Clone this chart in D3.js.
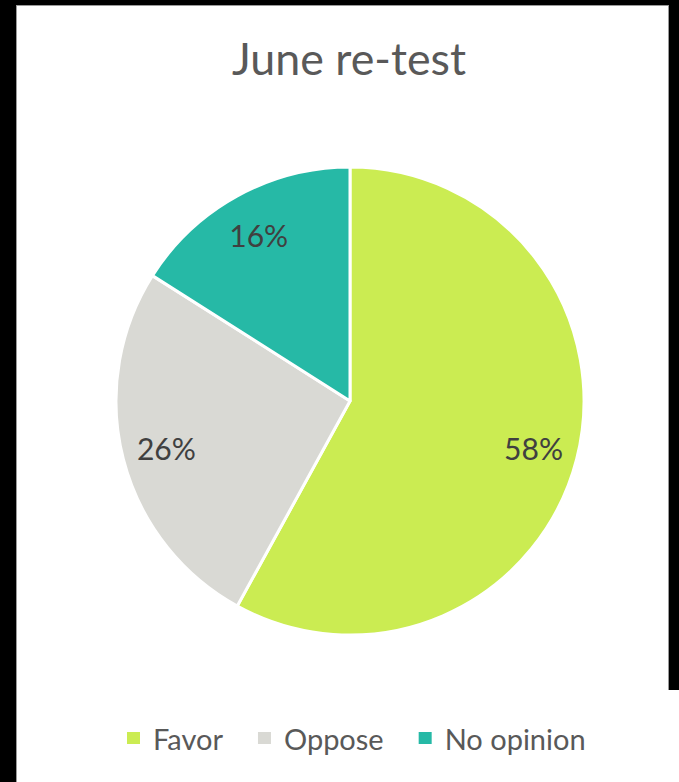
<!DOCTYPE html>
<html>
<head>
<meta charset="utf-8">
<script src="https://cdn.jsdelivr.net/npm/d3@7"></script>
<style>
  html, body { margin: 0; padding: 0; background: #000; }
  svg { display: block; }
</style>
</head>
<body>
<svg id="chart"></svg>
<script>
'use strict';

// ── Data ──────────────────────────────────────────────────
const title      = 'June re-test';
const categories = ['Favor', 'Oppose', 'No opinion'];
const values     = [58, 26, 16];
const colors     = ['#cbec52', '#d9d9d4', '#26b9a6'];

// ── Layout ────────────────────────────────────────────────
const W = 679, H = 782;
const FONT = 'Lato, "Open Sans", sans-serif';
const cx = 350, cy = 401, R = 234;

const svg = d3.select('#chart').attr('width', W).attr('height', H);

// frame: black edges like the screenshot, white chart area
svg.append('rect').attr('width', W).attr('height', H).attr('fill', '#000');
svg.append('rect')
  .attr('x', 16).attr('y', 5).attr('width', 653).attr('height', H - 5)
  .attr('fill', '#9a9a9a');
svg.append('rect')
  .attr('x', 17).attr('y', 6).attr('width', 651).attr('height', H - 6)
  .attr('fill', '#fff');
svg.append('rect')
  .attr('x', 668).attr('y', 690).attr('width', W - 668).attr('height', H - 690)
  .attr('fill', '#fff');

// fit a text node's font size so it spans a given width
function fitWidth(sel, target) {
  const fs = parseFloat(sel.attr('font-size'));
  const w = sel.node().getComputedTextLength();
  if (w > 0) sel.attr('font-size', fs * target / w);
  return sel;
}

// ── Title ─────────────────────────────────────────────────
const titleEl = svg.append('text')
  .attr('x', 349).attr('y', 75)
  .attr('text-anchor', 'middle')
  .attr('font-family', FONT)
  .attr('font-size', 42)
  .attr('fill', '#595959')
  .text(title);
fitWidth(titleEl, 234);

// ── Pie ───────────────────────────────────────────────────
const data = categories.map((c, i) => ({ name: c, value: values[i], color: colors[i] }));
const pie = d3.pie().value(d => d.value).sort(null);
const arcs = pie(data);
const arc = d3.arc().innerRadius(0).outerRadius(R);
const labelArc = d3.arc().innerRadius(R * 0.81).outerRadius(R * 0.81);

const g = svg.append('g').attr('transform', `translate(${cx},${cy})`);

g.selectAll('path.slice')
  .data(arcs)
  .join('path')
  .attr('class', 'slice')
  .attr('d', arc)
  .attr('fill', d => d.data.color)
  .attr('stroke', '#fff')
  .attr('stroke-width', 3)
  .attr('stroke-linejoin', 'round');

const labels = g.selectAll('text.pct')
  .data(arcs)
  .join('text')
  .attr('class', 'pct')
  .attr('x', d => labelArc.centroid(d)[0])
  .attr('y', d => labelArc.centroid(d)[1])
  .attr('text-anchor', 'middle')
  .attr('dominant-baseline', 'central')
  .attr('font-family', FONT)
  .attr('font-size', 30)
  .attr('fill', '#404040')
  .text(d => d.data.value + '%');
// scale all labels by the width of the first one
const lw = labels.nodes()[0].getComputedTextLength();
labels.attr('font-size', 30 * 59 / lw);

// ── Legend ────────────────────────────────────────────────
const legend = svg.append('g').attr('transform', 'translate(127,738)');
let lx = 0;
let legendSize = 25;
{
  const probe = legend.append('text')
    .attr('font-family', FONT).attr('font-size', 25).text(categories[0]);
  legendSize = 25 * 70 / probe.node().getComputedTextLength();
  probe.remove();
}
data.forEach(d => {
  const item = legend.append('g').attr('transform', `translate(${lx},0)`);
  item.append('rect')
    .attr('x', 0).attr('y', -6).attr('width', 13).attr('height', 12)
    .attr('fill', d.color);
  const t = item.append('text')
    .attr('x', 26).attr('y', 0)
    .attr('dominant-baseline', 'central')
    .attr('font-family', FONT)
    .attr('font-size', legendSize)
    .attr('fill', '#595959')
    .text(d.name);
  lx += 26 + t.node().getComputedTextLength() + 35;
});
</script>
</body>
</html>
